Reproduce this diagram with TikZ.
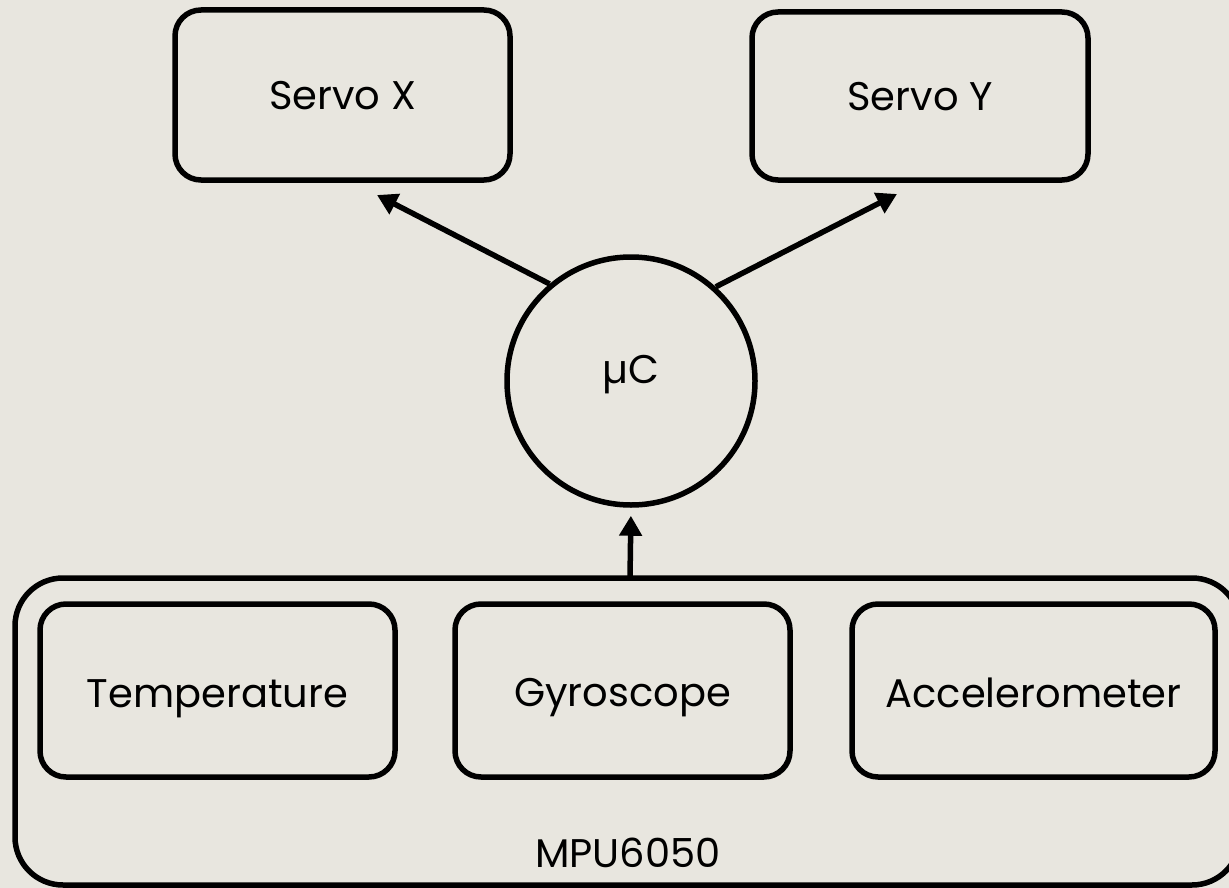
\documentclass[tikz,border=0pt]{standalone}
\usepackage{fontspec}
\setmainfont{Poppins}
\usetikzlibrary{arrows.meta}
\definecolor{bgc}{RGB}{232,230,223}
\begin{document}
\begin{tikzpicture}[x=1pt,y=-1pt,
  box/.style={draw, line width=5.5pt, rounded corners=26pt, inner sep=0pt, text depth=0pt},
  lbl/.style={font=\fontsize{40}{46}\selectfont},
  conn/.style={line width=5.5pt, -{Triangle[length=20pt,width=22pt]}}]
\fill[bgc] (0,0) rectangle (1229,888);
\useasboundingbox (0,0) rectangle (1229,888);
% outer MPU box
\node[box, rounded corners=48pt, minimum width=1225pt, minimum height=307pt] (mpu) at (627.5,731.5) {};
\node[lbl, anchor=base, inner sep=0pt] (mpulbl) at (628,867) {MPU6050};
% sensors
\node[box, minimum width=355pt, minimum height=173pt, lbl, text height=34pt] (temp) at (217.5,690.5) {Temperature};
\node[box, minimum width=335pt, minimum height=173pt, lbl, text height=32pt] (gyro) at (622.5,690.5) {Gyroscope};
\node[box, minimum width=363pt, minimum height=173pt, lbl, text height=34pt] (acc) at (1033.5,690.5) {Accelerometer};
% servos
\node[box, minimum width=335pt, minimum height=170pt, lbl, text height=30pt] (sx) at (342.5,95) {Servo X};
\node[box, minimum width=336pt, minimum height=168pt, lbl, text height=30pt] (sy) at (920,96) {Servo Y};
% controller
\node[draw, line width=5.5pt, circle, minimum size=248pt, inner sep=0pt, lbl, text height=4pt, text depth=0pt] (mc) at (631,381) {µC};
% connectors
\coordinate (sxend) at (377,195);
\coordinate (syend) at (897,194);
\draw[conn] (mc.130.7) -- (sxend);
\draw[conn] (mc.48.9) -- (syend);
\draw[conn, shorten >=8pt] (630,578) -- (mc.south);
\end{tikzpicture}
\end{document}
